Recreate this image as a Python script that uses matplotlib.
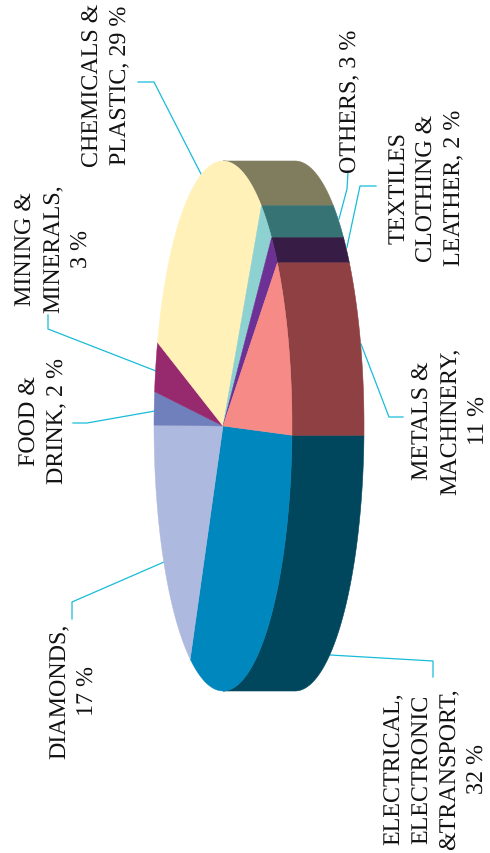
import numpy as np
import matplotlib
matplotlib.use("Agg")
import matplotlib.pyplot as plt

plt.rcParams["text.hinting"] = "no_hinting"
plt.rcParams["text.hinting_factor"] = 1

categories = ["ELECTRICAL,\nELECTRONIC\n&TRANSPORT,\n32 %", "DIAMONDS,\n17 %", "FOOD &\nDRINK, 2 %",
              "MINING &\nMINERALS,\n3 %", "CHEMICALS &\nPLASTIC, 29 %", "OTHERS, 3 %",
              "TEXTILES\nCLOTHING &\nLEATHER, 2 %", "METALS &\nMACHINERY,\n11 %"]
values = [32, 17, 2, 3, 29, 3, 2, 11]
top_colors = ["#0087BE", "#AEB9DF", "#6F80BD", "#97296E", "#FFF1B8", "#8ED1D1", "#6D3095", "#F58A86"]
side_colors = ["#00475E", "#666D85", "#414C71", "#5A1842", "#807D5E", "#367374", "#371D45", "#8F4043"]
label_pos = [(436, 769), (74, 691), (44, 421), (54, 249), (107, 85), (351, 101), (427, 188), (451, 421)]
leaders = [[(433, 678), (433, 662), (330, 656)],
           [(72, 620), (72, 603), (164, 563)],
           [(73, 424), (87, 424), (155, 412)],
           [(48, 316), (48, 330), (156, 372)],
           [(138, 83), (154, 83), (201, 175)],
           [(348, 173), (347, 190), (339, 220)],
           [(376, 187), (360, 187), (347, 248)],
           [(403, 418), (389, 418), (361, 345)]]

cx, cy, a, b, depth = 223, 427, 69, 265, 72
start = -2.0

fig = plt.figure(figsize=(4.9, 8.54), dpi=100)
ax = fig.add_axes([0, 0, 1, 1])
ax.set_xlim(0, 490)
ax.set_ylim(854, 0)
ax.axis("off")

def pt(t):
    r = np.radians(t)
    return cx + a * np.cos(r), cy - b * np.sin(r)

vals = np.array(values, float)
sweeps = vals / vals.sum() * 360
edges = start - np.concatenate([[0], np.cumsum(sweeps)])

for i in range(len(values)):
    hi, lo = edges[i], edges[i + 1]
    for shift in (0, 360):
        h = min(hi + shift, 90)
        l = max(lo + shift, -90)
        if h > l:
            t = np.linspace(l, h, 200)
            x, y = pt(t)
            ax.fill(np.r_[x, x[::-1] + depth], np.r_[y, y[::-1]],
                    color=side_colors[i], lw=0.4, zorder=2)

for i in range(len(values)):
    t = np.linspace(edges[i], edges[i + 1], 200)
    x, y = pt(t)
    ax.fill(np.r_[cx, x], np.r_[cy, y], color=top_colors[i], lw=0.3, zorder=3)

for pts in leaders:
    xs, ys = zip(*pts)
    ax.plot(xs, ys, color="#18BCD8", lw=0.9, zorder=1, solid_joinstyle="miter")

for lab, (x, y) in zip(categories, label_pos):
    ax.text(x, y, lab, rotation=90, ha="center", va="center", multialignment="center",
            family="Liberation Serif", fontsize=17, linespacing=1.37, color="#111111", zorder=5)

fig.savefig("out.png", dpi=100)
